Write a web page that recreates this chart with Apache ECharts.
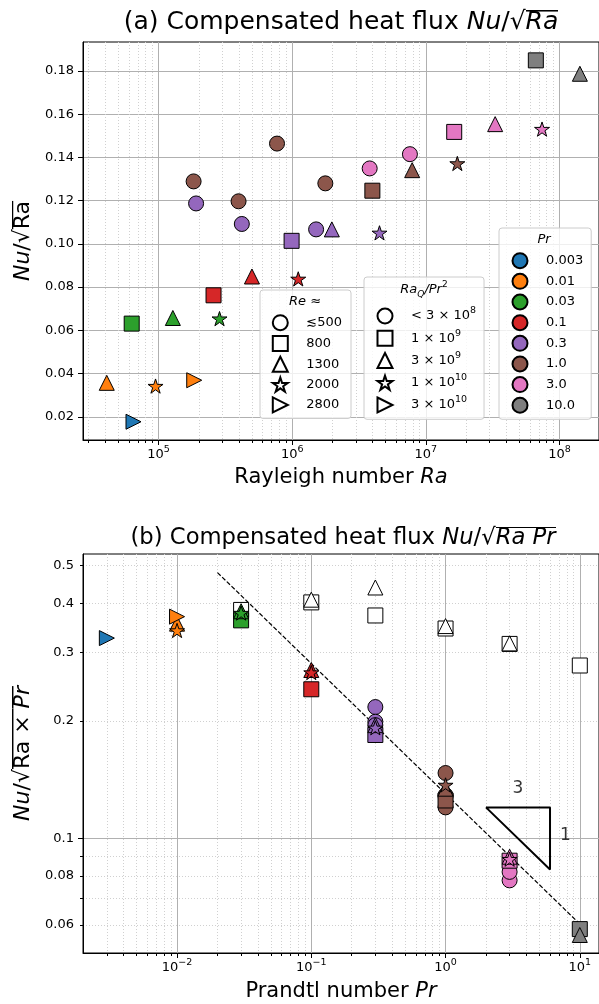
<!DOCTYPE html>
<html>
<head>
<meta charset="utf-8">
<script src="https://cdn.jsdelivr.net/npm/echarts@6/dist/echarts.min.js"></script>
<style>
  html, body { margin: 0; padding: 0; background: #fff; }
  #chart { width: 599px; height: 1004px; }
</style>
</head>
<body>
<div id="chart"></div>
<script>
// legend groups
const prLabels = ['0.003', '0.01', '0.03', '0.1', '0.3', '1.0', '3.0', '10.0']
const reLabels = ['≲500', '800', '1300', '2000', '2800']
const raqLabels = ['< 3 × 10^8', '1 × 10^9', '3 × 10^9', '1 × 10^10', '3 × 10^10']

// (a) Nu/sqrt(Ra) vs Ra, prIdx = colour, reIdx = marker
const topRa = [6.5e4, 4.1e4, 9.5e4, 1.85e5, 6.3e4, 1.28e5, 2.86e5, 2.58e5, 5.0e5, 1.11e6,
  1.91e5, 4.2e5, 1.51e6, 9.9e5, 1.98e6, 4.5e6, 1.83e5, 3.97e5, 7.7e5, 1.77e6,
  3.98e6, 7.9e6, 1.72e7, 3.8e6, 7.6e6, 1.63e7, 3.3e7, 7.4e7, 6.65e7, 1.42e8]
const topNu = [0.0177, 0.0357, 0.0342, 0.0369, 0.0631, 0.0657, 0.0654, 0.0762, 0.0849, 0.0838,
  0.1187, 0.1092, 0.1067, 0.1014, 0.1067, 0.1051, 0.1289, 0.1197, 0.1464, 0.1280,
  0.1246, 0.1341, 0.1372, 0.1349, 0.1415, 0.1518, 0.1554, 0.1531, 0.1849, 0.1787]
const topPrIdx = [0, 1, 1, 1, 2, 2, 2, 3, 3, 3, 4, 4, 4, 4, 4, 4, 5, 5, 5, 5, 5, 5, 5, 6, 6, 6, 6, 6, 7, 7]
const topReIdx = [4, 2, 3, 4, 1, 2, 3, 1, 2, 3, 0, 0, 0, 1, 2, 3, 0, 0, 0, 0, 1, 2, 3, 0, 0, 1, 2, 3, 1, 2]

// (b) Nu/sqrt(Ra Pr) vs Pr, same points
const botPr = [0.003, 0.01, 0.01, 0.01, 0.03, 0.03, 0.03, 0.1, 0.1, 0.1,
  0.3, 0.3, 0.3, 0.3, 0.3, 0.3, 1, 1, 1, 1, 1, 1, 1, 3, 3, 3, 3, 3, 10, 10]
const botNu = [0.326, 0.355, 0.341, 0.370, 0.362, 0.382, 0.378, 0.241, 0.270, 0.266,
  0.217, 0.199, 0.195, 0.184, 0.195, 0.192, 0.129, 0.120, 0.147, 0.128,
  0.125, 0.134, 0.137, 0.078, 0.082, 0.0876, 0.0897, 0.0884, 0.0585, 0.0565]
const botPrIdx = topPrIdx
const botReIdx = topReIdx

// (b) open markers, marker = Ra_Q/Pr^2 group
const openPr = [0.03, 0.1, 0.1, 0.3, 0.3, 1, 1, 3, 3, 10]
const openNu = [0.385, 0.4025, 0.409, 0.3726, 0.4395, 0.345, 0.350, 0.315, 0.316, 0.2773]
const openIdx = [1, 1, 2, 1, 2, 1, 2, 1, 2, 1]

// Pr^-1/3 guide and slope triangle
const fitLine = [[0.02, 0.48], [10, 0.0603]]
const slopeTri = [[2, 0.12], [6, 0.12], [6, 0.0832], [2, 0.12]]
const slopeText = ['3', '1']
const slopeTextAt = [[3.46, 0.134], [7.8, 0.1015]]

// ticks
const topXTicks = [1e5, 1e6, 1e7, 1e8]
const topXMinor = [3e4, 4e4, 5e4, 6e4, 7e4, 8e4, 9e4,
  2e5, 3e5, 4e5, 5e5, 6e5, 7e5, 8e5, 9e5,
  2e6, 3e6, 4e6, 5e6, 6e6, 7e6, 8e6, 9e6,
  2e7, 3e7, 4e7, 5e7, 6e7, 7e7, 8e7, 9e7]
const topYTicks = [0.02, 0.04, 0.06, 0.08, 0.10, 0.12, 0.14, 0.16, 0.18]
const botXTicks = [0.01, 0.1, 1, 10]
const botXMinor = [0.003, 0.004, 0.005, 0.006, 0.007, 0.008, 0.009,
  0.02, 0.03, 0.04, 0.05, 0.06, 0.07, 0.08, 0.09,
  0.2, 0.3, 0.4, 0.5, 0.6, 0.7, 0.8, 0.9,
  2, 3, 4, 5, 6, 7, 8, 9]
const botYTicks = [0.1]
const botYMinor = [0.06, 0.07, 0.08, 0.09, 0.2, 0.3, 0.4, 0.5]
const botYMinorLabels = [0.06, 0.08, 0.2, 0.3, 0.4, 0.5]

const prColors = ['#1f77b4', '#ff7f0e', '#2ca02c', '#d62728', '#9467bd', '#8c564b', '#e377c2', '#7f7f7f']
const FONT = 'DejaVu Sans'

function starPath () {
  let d = ''
  for (let i = 0; i < 10; i++) {
    const r = i % 2 ? 0.381966 : 1
    const a = Math.PI / 2 + i * Math.PI / 5
    d += (i ? 'L' : 'M') + (r * Math.cos(a)).toFixed(4) + ',' + (-r * Math.sin(a)).toFixed(4)
  }
  return 'path://' + d + 'Z'
}
const markers = ['circle', 'rect', 'triangle', starPath(), 'path://M-1,-1L1,0L-1,1Z']

// overline for the square roots: a thin bar drawn as the token background
function barImage (h, t) {
  const c = document.createElement('canvas')
  c.width = 4
  c.height = h
  const ctx = c.getContext('2d')
  ctx.fillStyle = '#000'
  ctx.fillRect(0, 0, 4, t)
  return c
}
function ovStyle (size, lh, italicOn) {
  const s = {fontSize: size, fontFamily: FONT, lineHeight: lh, backgroundColor: {image: barImage(lh, 2)}}
  if (italicOn) s.fontStyle = 'italic'
  return s
}
// '10^5' -> rich superscript
function supText (s) {
  return s.replace(/\^(\S+)/g, '{s|$1}')
}
function pow10 (v) {
  const e = Math.round(Math.log10(v))
  return '10{s|' + (e < 0 ? '−' + (-e) : e) + '}'
}
const supRich = {s: {fontSize: 9.5, fontFamily: FONT, verticalAlign: 'top', lineHeight: 11}}

const italic = {fontStyle: 'italic', fontFamily: FONT}

function majorX (grid, min, max, ticks, name, gap) {
  return {
    gridIndex: grid, type: 'log', min: min, max: max, position: 'bottom',
    axisLine: {show: true, lineStyle: {color: '#000', width: 1}},
    axisTick: {show: true, length: 5, customValues: ticks, lineStyle: {color: '#000', width: 1}},
    axisLabel: {customValues: ticks, formatter: pow10, fontSize: 13, lineHeight: 20, color: '#000', fontFamily: FONT, margin: 5, rich: supRich},
    splitLine: {show: true, lineStyle: {color: '#b0b0b0', width: 1}},
    name: name, nameLocation: 'middle', nameGap: gap,
    nameTextStyle: {fontSize: 21, color: '#000', fontFamily: FONT, rich: {i: Object.assign({fontSize: 21}, italic)}}
  }
}
function minorAxis (grid, type, pos, min, max, ticks, labels, fmt) {
  return {
    gridIndex: grid, type: type, min: min, max: max, position: pos,
    axisLine: {show: false},
    axisTick: {show: true, length: 3, customValues: ticks, lineStyle: {color: '#000', width: 1}},
    axisLabel: labels ? {customValues: labels, formatter: fmt, fontSize: 13, color: '#000', fontFamily: FONT, margin: 9} : {show: false},
    splitLine: {show: true, lineStyle: {color: '#d0d0d0', width: 1, type: [1, 2]}}
  }
}

const series = []
// open reference markers (panel b)
raqLabels.forEach((name, k) => {
  const data = []
  openPr.forEach((p, i) => { if (openIdx[i] === k) data.push([p, openNu[i]]) })
  series.push({
    name: name, type: 'scatter', xAxisIndex: 2, yAxisIndex: 1, symbol: markers[k], symbolSize: 15,
    symbolKeepAspect: true, silent: true, z: 4,
    itemStyle: {color: '#fff', borderColor: '#000', borderWidth: 1, opacity: 1},
    data: data
  })
})
// empty series for the Re legend
reLabels.forEach((name, k) => {
  series.push({
    name: name, type: 'scatter', xAxisIndex: 0, yAxisIndex: 0, symbol: markers[k], symbolSize: 15,
    symbolKeepAspect: true, silent: true,
    itemStyle: {color: '#fff', borderColor: '#000', borderWidth: 1, opacity: 1},
    data: []
  })
})
// guide line + triangle
series.push({
  type: 'line', xAxisIndex: 2, yAxisIndex: 1, data: fitLine, symbol: 'none', silent: true, z: 3,
  lineStyle: {color: '#000', width: 1.2, type: [4.5, 2]}
})
series.push({
  type: 'line', xAxisIndex: 2, yAxisIndex: 1, data: slopeTri, symbol: 'none', silent: true, z: 3,
  lineStyle: {color: '#000', width: 2}
})
series.push({
  type: 'scatter', xAxisIndex: 2, yAxisIndex: 1, data: slopeTextAt, symbolSize: 1, silent: true,
  itemStyle: {color: 'rgba(0,0,0,0)'},
  label: {show: true, position: 'inside', formatter: p => slopeText[p.dataIndex], fontSize: 17, color: '#000', fontFamily: FONT}
})
// coloured points, both panels
prLabels.forEach((name, p) => {
  const top = []
  const bot = []
  topRa.forEach((ra, i) => {
    if (topPrIdx[i] === p) top.push({value: [ra, topNu[i]], symbol: markers[topReIdx[i]]})
  })
  botPr.forEach((pr, i) => {
    if (botPrIdx[i] === p) bot.push({value: [pr, botNu[i]], symbol: markers[botReIdx[i]]})
  })
  const style = {color: prColors[p], borderColor: '#000', borderWidth: 1, opacity: 1}
  series.push({name: name, type: 'scatter', xAxisIndex: 0, yAxisIndex: 0, symbolSize: 15, symbolKeepAspect: true, silent: true, z: 5, itemStyle: style, data: top})
  series.push({name: name, type: 'scatter', xAxisIndex: 2, yAxisIndex: 1, symbolSize: 15, symbolKeepAspect: true, silent: true, z: 5, itemStyle: style, data: bot})
})

const legendBase = {
  orient: 'vertical', itemWidth: 15, itemHeight: 15, selectedMode: false,
  backgroundColor: 'rgba(255,255,255,0.8)', borderColor: '#cccccc', borderWidth: 1, borderRadius: 3,
  textStyle: {fontSize: 13, color: '#000', fontFamily: FONT, padding: [0, 0, 0, 13.5]}
}

const option = {
  animation: false,
  backgroundColor: '#fff',
  textStyle: {fontFamily: FONT},
  grid: [
    {left: 83, top: 42, width: 516, height: 398, show: true, borderColor: '#000', borderWidth: 1, backgroundColor: 'transparent', outerBoundsMode: 'none'},
    {left: 83, top: 554, width: 516, height: 399, show: true, borderColor: '#000', borderWidth: 1, backgroundColor: 'transparent', outerBoundsMode: 'none'}
  ],
  xAxis: [
    majorX(0, 27230, 1.974e8, topXTicks, 'Rayleigh number {i|Ra}', 27),
    minorAxis(0, 'log', 'bottom', 27230, 1.974e8, topXMinor, null),
    majorX(1, 0.001993, 13.9, botXTicks, 'Prandtl number {i|Pr}', 28),
    minorAxis(1, 'log', 'bottom', 0.001993, 13.9, botXMinor, null)
  ],
  yAxis: [
    {
      gridIndex: 0, type: 'value', min: 0.00925, max: 0.1934, position: 'left',
      axisLine: {show: true, lineStyle: {color: '#000', width: 1}},
      axisTick: {show: true, length: 5, customValues: topYTicks, lineStyle: {color: '#000'}},
      axisLabel: {customValues: topYTicks, formatter: v => v.toFixed(2), fontSize: 13, color: '#000', fontFamily: FONT, margin: 9},
      splitLine: {show: true, lineStyle: {color: '#b0b0b0', width: 1}},
      name: '{i|Nu}/√{o|Ra}', nameLocation: 'middle', nameGap: 43.5, nameRotate: 90,
      nameTextStyle: {fontSize: 22, color: '#000', fontFamily: FONT,
        rich: {i: Object.assign({fontSize: 22}, italic), o: ovStyle(22, 33, false)}}
    },
    {
      gridIndex: 1, type: 'log', min: 0.0508, max: 0.5356, position: 'left',
      axisLine: {show: true, lineStyle: {color: '#000', width: 1}},
      axisTick: {show: true, length: 5, customValues: botYTicks, lineStyle: {color: '#000'}},
      axisLabel: {customValues: botYTicks, formatter: v => String(v), fontSize: 13, color: '#000', fontFamily: FONT, margin: 9},
      splitLine: {show: true, lineStyle: {color: '#b0b0b0', width: 1}},
      name: '{i|Nu}/√{o|Ra × }{oi|Pr}', nameLocation: 'middle', nameGap: 45, nameRotate: 90,
      nameTextStyle: {fontSize: 22, color: '#000', fontFamily: FONT,
        rich: {i: Object.assign({fontSize: 22}, italic), o: ovStyle(22, 30, false), oi: ovStyle(22, 30, true)}}
    },
    minorAxis(1, 'log', 'left', 0.0508, 0.5356, botYMinor, botYMinorLabels, v => String(v))
  ],
  legend: [
    Object.assign({}, legendBase, {
      left: 260, top: 290, padding: [24.2, 9, 5, 11.8], itemGap: 3.75, data: reLabels
    }),
    Object.assign({}, legendBase, {
      left: 364, top: 277, padding: [29, 8, 4.3, 12.5], itemGap: 2.25, data: raqLabels,
      formatter: supText,
      textStyle: Object.assign({}, legendBase.textStyle, {lineHeight: 20, rich: supRich})
    }),
    Object.assign({}, legendBase, {
      left: 499, top: 228, padding: [24.2, 8, 5.5, 12.5], itemGap: 3.65,
      data: prLabels.map(n => ({name: n, icon: 'circle'}))
    })
  ],
  graphic: [
    {type: 'text', z: 100, style: {x: 341, y: 22.5, align: 'center', verticalAlign: 'middle', fill: '#000',
      text: '(a) Compensated heat flux {i|Nu}/√{o|Ra}', fontSize: 25, fontFamily: FONT,
      rich: {i: Object.assign({fontSize: 25}, italic), o: ovStyle(25, 33, true)}}},
    {type: 'text', z: 100, style: {x: 343, y: 538, align: 'center', verticalAlign: 'middle', fill: '#000',
      text: '(b) Compensated heat flux {i|Nu}/√{o|Ra Pr}', fontSize: 22.7, fontFamily: FONT,
      rich: {i: Object.assign({fontSize: 22.7}, italic), o: ovStyle(22.7, 32.6, true)}}},
    {type: 'text', z: 100, style: {x: 305, y: 301.7, align: 'center', verticalAlign: 'middle', fill: '#000',
      text: '{i|Re} ≈', fontSize: 13, fontFamily: FONT, rich: {i: Object.assign({fontSize: 13}, italic)}}},
    {type: 'text', z: 100, style: {x: 424, y: 290, align: 'center', verticalAlign: 'middle', fill: '#000',
      text: '{i|Ra}{b|Q}{i|/Pr}{s|2}', fontSize: 13, fontFamily: FONT,
      rich: {i: Object.assign({fontSize: 13, lineHeight: 19}, italic),
        b: Object.assign({fontSize: 9, verticalAlign: 'bottom', lineHeight: 11}, italic),
        s: {fontSize: 9, fontFamily: FONT, verticalAlign: 'top', lineHeight: 11}}}},
    {type: 'text', z: 100, style: {x: 544, y: 239.5, align: 'center', verticalAlign: 'middle', fill: '#000',
      text: '{i|Pr}', fontSize: 13, fontFamily: FONT, rich: {i: Object.assign({fontSize: 13}, italic)}}}
  ],
  series: series
}

const chart = echarts.init(document.getElementById('chart'), null, {renderer: 'canvas'})
chart.setOption(option)
</script>
</body>
</html>
